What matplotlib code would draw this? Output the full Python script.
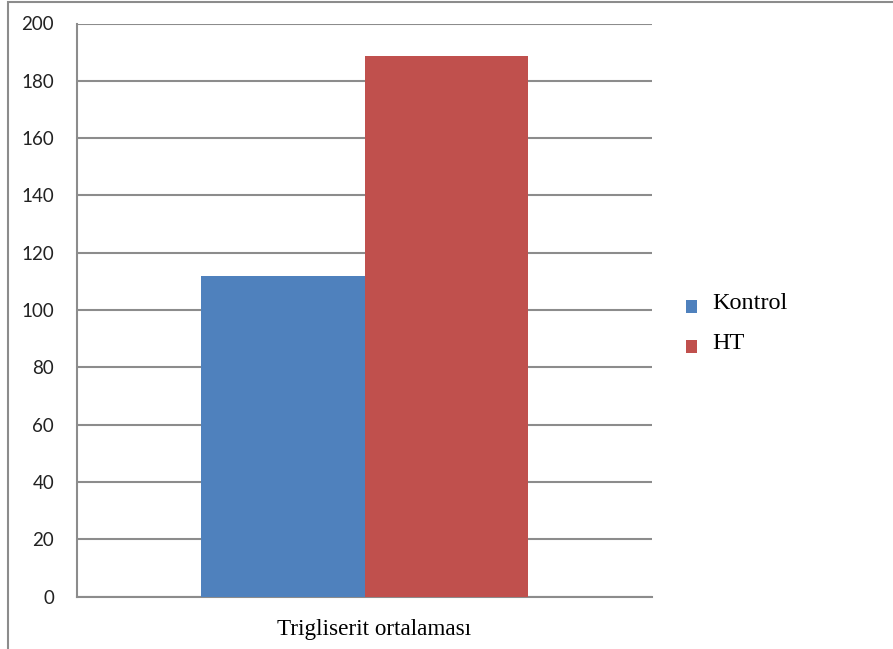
import matplotlib
matplotlib.use("Agg")
import matplotlib.pyplot as plt
import matplotlib.transforms as mtransforms
from matplotlib.patches import Rectangle
from matplotlib.legend_handler import HandlerPatch

# Mean triglyceride values per group
categories = ["Trigliserit ortalaması"]
series_names = ["Kontrol", "HT"]
series_values = [[112], [188.5]]
series_colors = ["#4F81BD", "#C0504D"]
y_ticks = [0, 20, 40, 60, 80, 100, 120, 140, 160, 180, 200]

W, H = 893, 649
fig = plt.figure(figsize=(W / 100, H / 100), dpi=100)

# outer chart frame
fig.patches.append(Rectangle((8 / W, -0.01), 1.0, 1.01 - 1.5 / H, transform=fig.transFigure,
                             fill=False, edgecolor="#8c8c8c", linewidth=1.5, zorder=0))

ax = fig.add_axes([77 / W, 52.5 / H, 575 / W, 573 / H])

gap = 1.52
bar_w = 1.0 / (len(series_names) + gap)
for ci, cat in enumerate(categories):
    start = ci + gap * bar_w / 2
    for si, name in enumerate(series_names):
        ax.bar(start + si * bar_w, series_values[si][ci], width=bar_w, align="edge",
               color=series_colors[si], label=name, zorder=3, linewidth=0)

ax.set_xlim(0, len(categories))
ax.set_ylim(0, 200)
ax.set_yticks(y_ticks)
ax.set_yticklabels([str(t) for t in y_ticks], family="Lato", fontsize=13.5, color="#222222")
ax.yaxis.grid(True, color="#8c8c8c", linewidth=1.5, zorder=0)
ax.tick_params(axis="y", length=0, pad=16.5)
ax.set_xticks([ci + 0.5 for ci in range(len(categories))])
ax.set_xticklabels(categories, family="Liberation Serif", fontsize=16.7)
ax.tick_params(axis="x", length=0, pad=16)
shift = mtransforms.ScaledTranslation(10 / 100, 0, fig.dpi_scale_trans)
for lbl in ax.get_xticklabels():
    lbl.set_transform(lbl.get_transform() + shift)

for side in ["top", "right"]:
    ax.spines[side].set_visible(False)
for side in ["left", "bottom"]:
    ax.spines[side].set_color("#8c8c8c")
    ax.spines[side].set_linewidth(1.5)


def low_square(legend, orig_handle, xdescent, ydescent, width, height, fontsize):
    # square key sitting slightly below the text centre
    return Rectangle((-xdescent, -ydescent - 0.25 * fontsize), width, height)


handles = [Rectangle((0, 0), 1, 1, facecolor=c, linewidth=0) for c in series_colors]
leg = fig.legend(handles, series_names, loc="upper left", bbox_to_anchor=(686 / W, 1 - 293 / H),
                 frameon=False, borderpad=0, borderaxespad=0,
                 prop={"family": "Liberation Serif", "size": 17.5}, handlelength=0.45,
                 handleheight=0.45, handletextpad=0.62, labelspacing=0.8,
                 handler_map={Rectangle: HandlerPatch(patch_func=low_square)})

fig.savefig("out.png", dpi=100)
